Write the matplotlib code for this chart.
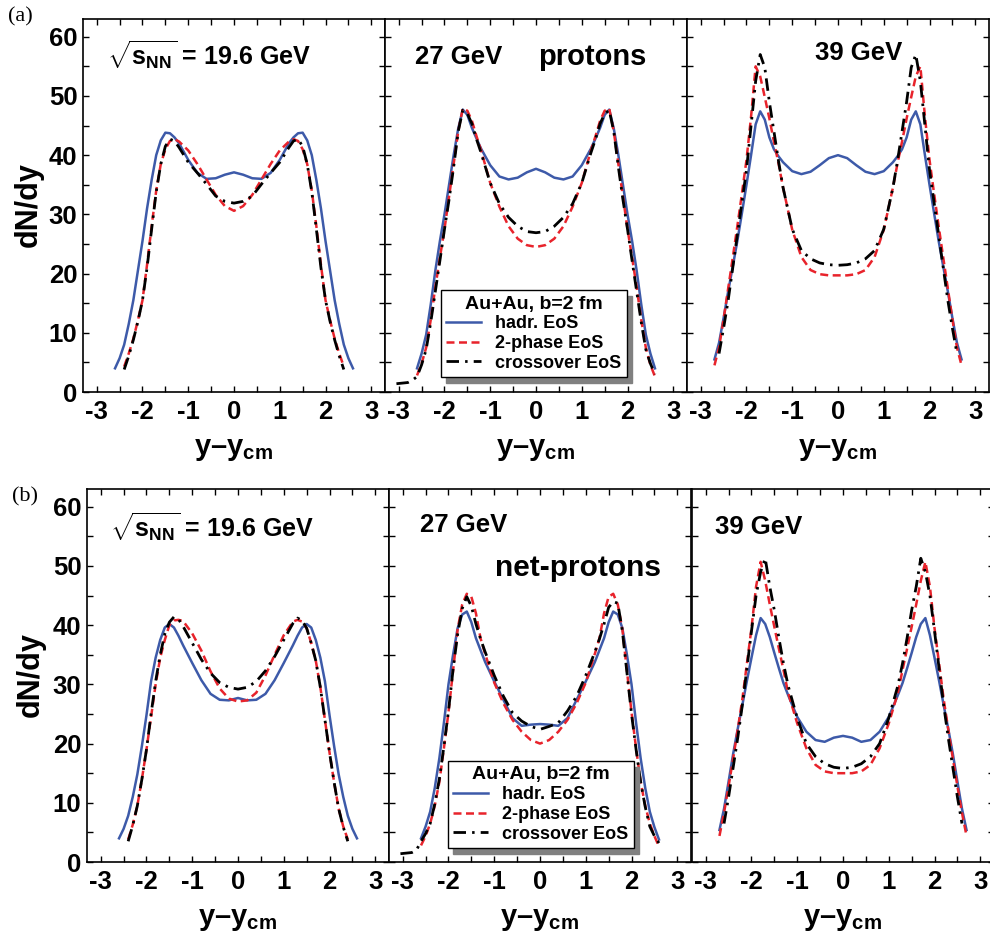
import numpy as np
import matplotlib.pyplot as plt
from matplotlib.ticker import MultipleLocator

plt.rcParams['font.family'] = 'Liberation Sans'
plt.rcParams['font.weight'] = 'bold'
plt.rcParams['axes.unicode_minus'] = False
plt.rcParams['mathtext.fontset'] = 'custom'
plt.rcParams['mathtext.rm'] = 'Liberation Sans:bold'
plt.rcParams['mathtext.it'] = 'Liberation Sans:bold'
plt.rcParams['mathtext.bf'] = 'Liberation Sans:bold'

N = None

# rapidity points y - y_cm
rap = [-3.05, -2.8, -2.7, -2.6, -2.5, -2.4, -2.3, -2.2, -2.1, -2.0,
       -1.9, -1.8, -1.7, -1.6, -1.5, -1.4, -1.3, -1.2,
       -1.0, -0.8, -0.6, -0.4, -0.2, 0.0, 0.2, 0.4, 0.6, 0.8, 1.0,
       1.2, 1.3, 1.4, 1.5, 1.6, 1.7, 1.8, 1.9,
       2.0, 2.1, 2.2, 2.3, 2.4, 2.5, 2.6, 2.7]

# (a) protons
p19_hadr = [N, N, N, 4.0, 5.7, 8.0, 11.5, 15.5, 20.5, 25.5,
            31.0, 35.8, 40.0, 42.5, 43.8, 43.7, 43.0, 42.0,
            39.2, 37.0, 36.0, 36.1, 36.7, 37.1, 36.7, 36.1, 36.0, 37.0, 39.2,
            42.0, 43.0, 43.7, 43.8, 42.5, 40.0, 35.8, 31.0,
            25.5, 20.5, 15.5, 11.5, 8.0, 5.7, 4.0, N]
p19_2ph = [N, N, N, N, N, 4.3, 6.5, 9.0, 12.1, 15.5,
           21.5, 28.0, 34.0, 38.5, 41.0, 42.4, 42.7, 42.3,
           40.8, 38.5, 35.9, 33.3, 31.4, 30.6, 31.4, 33.3, 35.9, 38.5, 40.8,
           42.3, 42.7, 42.4, 41.0, 38.5, 34.0, 28.0, 21.5,
           15.5, 12.1, 9.0, 6.5, 4.3, N, N, N]
p19_cross = [N, N, N, N, N, 3.8, 6.1, 8.8, 11.9, 15.5,
             21.0, 27.5, 33.8, 38.5, 41.5, 42.7, 42.4, 41.3,
             38.8, 37.0, 35.1, 33.1, 32.2, 31.9, 32.2, 33.1, 35.1, 37.0, 38.8,
             41.3, 42.4, 42.7, 41.5, 38.5, 33.8, 27.5, 21.0,
             15.5, 11.9, 8.8, 6.1, 3.8, N, N, N]

p27_hadr = [N, N, N, 4.0, 6.5, 9.7, 14.8, 20.5, 25.5, 30.0,
            35.0, 40.0, 44.5, 47.7, 46.8, 44.6, 42.8, 41.1,
            38.3, 36.4, 35.9, 36.2, 37.1, 37.7, 37.1, 36.2, 35.9, 36.4, 38.3,
            41.1, 42.8, 44.6, 46.8, 47.7, 44.5, 40.0, 35.0,
            30.0, 25.5, 20.5, 14.8, 9.7, 6.5, 4.0, N]
p27_2ph = [N, N, N, 2.8, 4.8, 7.5, 12.2, 17.7, 22.7, 27.5,
           33.0, 38.5, 44.0, 47.9, 47.5, 45.8, 43.2, 40.8,
           35.3, 31.3, 28.0, 25.9, 24.8, 24.5, 24.8, 25.9, 28.0, 31.3, 35.3,
           40.8, 43.2, 45.8, 47.5, 47.9, 44.0, 38.5, 33.0,
           27.5, 22.7, 17.7, 12.2, 7.5, 4.6, 2.6, N]
p27_cross = [1.4, 1.6, 2.0, 2.6, 4.6, 7.2, 11.8, 17.0, 22.2, 27.5,
             32.5, 38.0, 44.0, 47.6, 47.0, 45.3, 42.7, 40.4,
             35.3, 31.8, 29.5, 28.0, 27.1, 26.9, 27.1, 28.0, 29.5, 31.8, 35.3,
             40.4, 42.7, 45.3, 47.0, 47.6, 44.0, 38.0, 32.5,
             27.5, 22.2, 17.0, 11.8, 7.2, 4.8, 3.0, N]

p39_hadr = [N, N, 5.5, 8.3, 12.5, 17.0, 21.2, 25.5, 30.2, 35.0,
            40.0, 45.2, 47.4, 46.0, 43.0, 41.0, 39.8, 38.8,
            37.3, 36.8, 37.2, 38.3, 39.5, 40.0, 39.5, 38.3, 37.2, 36.8, 37.3,
            38.8, 39.8, 41.0, 43.0, 46.0, 47.4, 45.2, 40.0,
            35.0, 30.2, 25.5, 21.2, 17.0, 12.5, 8.3, 5.5]
p39_2ph = [N, N, 4.5, 7.5, 12.3, 17.5, 22.7, 28.0, 33.5, 39.2,
           46.5, 55.0, 53.3, 49.8, 46.2, 42.3, 38.6, 34.5,
           27.4, 22.8, 20.6, 19.9, 19.7, 19.7, 19.7, 19.9, 20.6, 22.8, 27.4,
           34.5, 38.6, 42.3, 46.2, 49.8, 53.3, 55.0, 46.5,
           39.2, 33.5, 28.0, 22.7, 17.5, 12.3, 7.5, 4.5]
p39_cross = [N, N, N, 6.5, 10.8, 15.5, 21.0, 26.5, 32.0, 37.5,
             45.0, 52.5, 57.0, 54.8, 49.0, 44.0, 39.0, 34.5,
             27.5, 23.9, 22.5, 21.8, 21.5, 21.4, 21.5, 21.8, 22.5, 23.9, 27.5,
             34.5, 39.0, 44.0, 49.0, 54.8, 57.0, 52.5, 45.0,
             37.5, 32.0, 26.5, 21.0, 15.5, 10.8, 6.5, N]

# (b) net-protons
n19_hadr = [N, N, N, 4.0, 5.6, 7.8, 11.0, 14.8, 19.6, 24.8,
            30.5, 34.5, 37.5, 39.6, 40.2, 39.6, 38.2, 36.6,
            33.6, 30.7, 28.4, 27.4, 27.3, 27.7, 27.3, 27.4, 28.4, 30.7, 33.6,
            36.6, 38.2, 39.6, 40.2, 39.6, 37.5, 34.5, 30.5,
            24.8, 19.6, 14.8, 11.0, 7.8, 5.6, 4.0, N]
n19_2ph = [N, N, N, N, N, 3.8, 6.3, 9.5, 14.0, 19.0,
           24.5, 30.0, 34.5, 37.5, 40.0, 40.8, 40.9, 40.7,
           38.6, 35.7, 32.2, 29.3, 27.6, 27.1, 27.3, 28.6, 31.5, 35.0, 38.3,
           40.6, 40.9, 40.6, 39.5, 37.0, 34.0, 29.5, 24.0,
           18.5, 13.5, 9.0, 6.0, 3.8, N, N, N]
n19_cross = [N, N, N, N, N, 3.5, 6.2, 9.5, 14.0, 19.0,
             25.0, 30.5, 35.0, 38.5, 40.5, 41.4, 41.0, 39.8,
             37.0, 34.2, 31.9, 30.3, 29.5, 29.2, 29.5, 30.5, 32.3, 34.7, 37.5,
             40.3, 41.2, 40.8, 39.5, 37.0, 34.0, 29.5, 24.0,
             18.5, 13.5, 9.0, 5.9, 3.5, N, N, N]

n27_hadr = [N, N, N, 4.0, 6.0, 8.5, 12.5, 17.5, 23.5, 30.0,
            35.0, 39.5, 41.8, 42.3, 40.5, 37.8, 35.8, 33.8,
            30.5, 27.4, 24.3, 23.0, 23.2, 23.3, 23.2, 23.0, 24.3, 27.4, 30.5,
            33.8, 35.8, 37.8, 40.5, 42.3, 41.8, 39.5, 35.0,
            30.0, 23.5, 17.5, 12.5, 8.5, 5.9, 3.8, N]
n27_2ph = [N, N, N, 2.8, 4.4, 6.5, 9.5, 13.5, 19.2, 25.3,
           32.3, 39.3, 43.5, 45.3, 44.8, 42.0, 37.8, 35.2,
           30.3, 26.8, 24.0, 22.0, 20.6, 20.0, 20.6, 22.0, 24.0, 26.8, 30.3,
           35.2, 37.8, 42.0, 44.8, 45.3, 43.5, 39.3, 32.3,
           25.3, 19.2, 13.5, 9.5, 6.5, 4.4, 2.6, N]
n27_cross = [1.4, 1.6, 2.0, 3.5, 4.8, 6.5, 9.8, 14.0, 19.5, 25.5,
             32.5, 38.5, 42.8, 44.8, 43.2, 40.2, 37.7, 35.5,
             31.5, 28.0, 25.2, 23.8, 22.9, 22.4, 22.9, 23.5, 25.5, 28.0, 31.5,
             35.5, 37.7, 40.2, 43.0, 44.0, 43.7, 39.0, 32.0,
             25.0, 19.0, 13.5, 9.3, 6.0, 4.4, 3.2, N]

n39_hadr = [N, N, 5.4, 9.0, 13.6, 18.3, 22.5, 26.5, 30.6, 34.5,
            38.3, 41.2, 40.2, 38.0, 35.3, 32.7, 30.2, 28.2,
            24.5, 22.0, 20.6, 20.3, 21.0, 21.3, 21.0, 20.3, 20.6, 22.0, 24.5,
            28.2, 30.2, 32.7, 35.3, 38.0, 40.2, 41.2, 38.3,
            34.5, 30.6, 26.5, 22.5, 18.3, 13.6, 9.0, 5.4]
n39_2ph = [N, N, 4.4, 8.3, 12.8, 17.5, 22.4, 27.5, 33.5, 39.5,
           46.5, 50.7, 47.5, 43.5, 39.7, 36.0, 32.4, 28.6,
           23.4, 19.2, 16.4, 15.3, 15.0, 15.0, 15.0, 15.3, 16.4, 19.2, 23.4,
           28.6, 32.4, 36.0, 39.7, 43.5, 47.5, 50.7, 46.5,
           39.5, 33.5, 27.5, 22.4, 17.5, 12.8, 8.3, 4.4]
n39_cross = [N, N, N, 6.5, 11.0, 16.0, 21.0, 26.5, 32.7, 39.0,
             45.0, 49.0, 51.3, 46.5, 42.5, 37.8, 33.5, 29.8,
             24.3, 20.0, 17.8, 16.6, 16.0, 15.8, 16.0, 16.6, 17.8, 20.0, 24.3,
             29.8, 33.5, 37.8, 42.5, 46.5, 51.3, 49.0, 45.0,
             39.0, 32.7, 26.5, 21.0, 16.0, 11.0, 6.5, N]

BLUE = '#3d5aa9'
RED = '#e8232b'

W, H = 990.0, 933.0
fig = plt.figure(figsize=(W / 100, H / 100), dpi=100)


def make_panel(left_px, top_px, hadr, two, cross, first):
    ax = fig.add_axes([left_px / W, 1 - (top_px + 373) / H, 302 / W, 373 / H])
    x = np.array(rap)
    ax.plot(x, np.array(hadr, dtype=float), color=BLUE, lw=1.8, label='hadr. EoS')
    ax.plot(x, np.array(two, dtype=float), color=RED, lw=1.8, dashes=(3.2, 1.8), label='2-phase EoS')
    ax.plot(x, np.array(cross, dtype=float), color='black', lw=2.0, dashes=(4.5, 2.2, 0.9, 2.2),
            label='crossover EoS')
    ax.set_xlim(-3.3, 3.3)
    ax.set_ylim(0, 63)
    ax.xaxis.set_major_locator(MultipleLocator(1))
    ax.xaxis.set_minor_locator(MultipleLocator(0.5))
    ax.yaxis.set_major_locator(MultipleLocator(10))
    ax.yaxis.set_minor_locator(MultipleLocator(5))
    ax.tick_params(which='both', direction='in', top=True, right=True, length=4, width=1)
    ax.tick_params(axis='x', labelsize=18.5, pad=6)
    ax.tick_params(axis='y', labelsize=18.5, pad=4, labelleft=first)
    for s in ax.spines.values():
        s.set_linewidth(1.2)
    ax.text(0.5, -0.169, 'y\u2013y$_{\\mathrm{cm}}$', transform=ax.transAxes, ha='center',
            va='baseline', fontsize=21, fontweight='bold')
    return ax


def add_legend(ax, x0, y0):
    leg = ax.legend(loc='lower left', bbox_to_anchor=(x0, y0), borderaxespad=0,
                    title='Au+Au, b=2 fm', prop={'weight': 'bold', 'size': 13},
                    title_fontproperties={'weight': 'bold', 'size': 14},
                    fancybox=False, framealpha=1, handlelength=1.9, handletextpad=0.8,
                    labelspacing=0.15, borderpad=0.3,
                    shadow={'ox': 4, 'oy': -4, 'facecolor': '0.5', 'edgecolor': '0.5', 'alpha': 1})
    leg.get_frame().set_edgecolor('black')
    leg.get_frame().set_linewidth(1)


sqrt_lbl = r'$\sqrt{\mathrm{s}_{\mathrm{NN}}}$ = 19.6 GeV'

# row (a)
ax1 = make_panel(83, 19, p19_hadr, p19_2ph, p19_cross, True)
ax2 = make_panel(385, 19, p27_hadr, p27_2ph, p27_cross, False)
ax3 = make_panel(687, 19, p39_hadr, p39_2ph, p39_cross, False)
ax1.text(0.079, 0.903, sqrt_lbl, transform=ax1.transAxes, ha='left', va='center', fontsize=18)
ax2.text(0.099, 0.898, '27 GeV', transform=ax2.transAxes, ha='left', va='center', fontsize=18.5)
ax2.text(0.507, 0.898, 'protons', transform=ax2.transAxes, ha='left', va='center', fontsize=21)
ax3.text(0.424, 0.909, '39 GeV', transform=ax3.transAxes, ha='left', va='center', fontsize=18.5)
add_legend(ax2, 0.185, 0.04)

# row (b)
bx1 = make_panel(87, 489, n19_hadr, n19_2ph, n19_cross, True)
bx2 = make_panel(389, 489, n27_hadr, n27_2ph, n27_cross, False)
bx3 = make_panel(692, 489, n39_hadr, n39_2ph, n39_cross, False)
bx1.text(0.076, 0.898, sqrt_lbl, transform=bx1.transAxes, ha='left', va='center', fontsize=18)
bx2.text(0.103, 0.903, '27 GeV', transform=bx2.transAxes, ha='left', va='center', fontsize=18.5)
bx2.text(0.351, 0.788, 'net-protons', transform=bx2.transAxes, ha='left', va='center', fontsize=21.5)
bx3.text(0.076, 0.898, '39 GeV', transform=bx3.transAxes, ha='left', va='center', fontsize=18.5)
add_legend(bx2, 0.195, 0.0375)

fig.text(29 / W, 1 - 205 / H, 'dN/dy', rotation=90, ha='center', va='center', fontsize=22)
fig.text(31 / W, 1 - 675 / H, 'dN/dy', rotation=90, ha='center', va='center', fontsize=22)
fig.text(20 / W, 1 - 17 / H, '(a)', ha='center', va='center', fontsize=16,
         family='Liberation Serif', fontweight='normal')
fig.text(25 / W, 1 - 497 / H, '(b)', ha='center', va='center', fontsize=16,
         family='Liberation Serif', fontweight='normal')

fig.savefig('out.png', dpi=100)
